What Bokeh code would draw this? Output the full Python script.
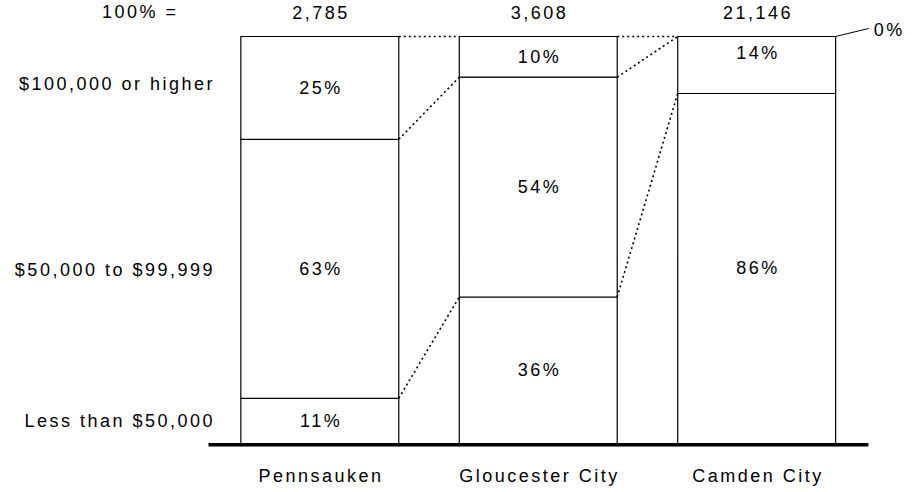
from bokeh.plotting import figure
from bokeh.models import ColumnDataSource, Range1d, InlineStyleSheet
from bokeh.core.properties import value
from bokeh.embed import file_html
from bokeh.resources import INLINE

# ---- data ----
categories = ["Pennsauken", "Gloucester City", "Camden City"]
totals = ["2,785", "3,608", "21,146"]
segment_names = ["Less than $50,000", "$50,000 to $99,999", "$100,000 or higher"]
low = [11, 36, 86]
mid = [63, 54, 14]
high = [25, 10, 0]
total_prefix = "100% ="

FONT = value("Liberation Sans")
FS = "18px"
LS = 2.5     # letter spacing (px)
BW = 0.723   # bar width in category units
hw = BW / 2
TXT = "#000000"


def shift(t, align):
    n = len(t) - 1
    if align == "center":
        return -n * LS / 2
    if align == "right":
        return -n * LS
    return 0


p = figure(width=916, height=492, output_backend="svg", toolbar_location=None,
           x_range=Range1d(-1.4617, 2.7316), y_range=Range1d(-12.04, 108.845),
           min_border=0, outline_line_color=None)
p.axis.visible = False
p.grid.visible = False
p.stylesheets = [InlineStyleSheet(css=f":host {{ letter-spacing: {LS}px; }}")]

xs = list(range(len(categories)))
rows = list(zip(low, mid, high))
shares = [[v * 100.0 / sum(r) for v in r] for r in rows]

# stacked bars
bx, bb, bt = [], [], []
lx, ly, ltxt, loff = [], [], [], []
for i, sh in enumerate(shares):
    base = 0.0
    for k, s in enumerate(sh):
        top = base + s
        if s > 0:
            bx.append(xs[i]); bb.append(base); bt.append(top)
            lx.append(xs[i]); ly.append((base + top) / 2)
            ltxt.append(f"{rows[i][k]}%")
            above_zero = k + 1 < len(sh) and sh[k + 1] == 0
            loff.append(-12 if above_zero else 0)
        base = top

p.vbar(x=bx, bottom=bb, top=bt, width=BW, fill_color="white",
       line_color="black", line_width=1.2)

# segment labels
p.text(x="x", y="y", text="t", y_offset="o", x_offset="xo",
       source=ColumnDataSource(dict(x=lx, y=ly, t=ltxt, o=loff,
                                    xo=[shift(t, "center") for t in ltxt])),
       text_font=FONT, text_font_size=FS, text_color=TXT,
       text_align="center", text_baseline="middle")

# dotted connectors between adjacent bars
cums = [[sh[0], sh[0] + sh[1], 100.0] for sh in shares]
sx0, sy0, sx1, sy1 = [], [], [], []
for i in range(len(xs) - 1):
    for k in range(3):
        sx0.append(xs[i] + hw); sy0.append(cums[i][k])
        sx1.append(xs[i + 1] - hw); sy1.append(cums[i + 1][k])
p.segment(x0=sx0, y0=sy0, x1=sx1, y1=sy1, line_color="black",
          line_width=1.6, line_dash="2 3")

# baseline
p.segment(x0=[xs[0] - hw - 0.148], y0=[-0.3], x1=[xs[-1] + hw + 0.15], y1=[-0.3],
          line_color="black", line_width=3.5)

# zero-value callouts
zx, zy, zt, cx0, cy0, cx1, cy1 = [], [], [], [], [], [], []
for i, r in enumerate(rows):
    for k, v in enumerate(r):
        if v == 0:
            cx0.append(xs[i] + hw); cy0.append(100.0)
            cx1.append(xs[i] + hw + 0.151); cy1.append(101.97)
            zx.append(xs[i] + hw + 0.174); zy.append(101.5)
            zt.append(f"{v}%")
p.segment(x0=cx0, y0=cy0, x1=cx1, y1=cy1, line_color="black", line_width=1)
p.text(x=zx, y=zy, text=zt, text_font=FONT, text_font_size=FS,
       text_color=TXT, text_align="left", text_baseline="middle")

# totals row
tt = [total_prefix] + totals
p.text(x=[-0.828] + xs, y=[106.0] * len(tt), text=tt,
       x_offset=[shift(t, "center") for t in tt],
       text_font=FONT, text_font_size=FS, text_color=TXT,
       text_align="center", text_baseline="middle")

# category labels
p.text(x=xs, y=[-8.0] * len(xs), text=categories,
       x_offset=[shift(t, "center") for t in categories],
       text_font=FONT, text_font_size=FS, text_color=TXT,
       text_align="center", text_baseline="middle")

# row labels (aligned with first bar's segments)
ry = []
base = 0.0
for s in shares[0]:
    ry.append(base + s / 2)
    base += s
ry[-1] += 0.9
ry[1] -= 0.4
p.text(x=[-0.4912] * 3, y=ry, text=segment_names,
       x_offset=[shift(t, "right") for t in segment_names],
       text_font=FONT, text_font_size=FS, text_color=TXT,
       text_align="right", text_baseline="middle")

open("out.html", "w").write(file_html(p, INLINE))
